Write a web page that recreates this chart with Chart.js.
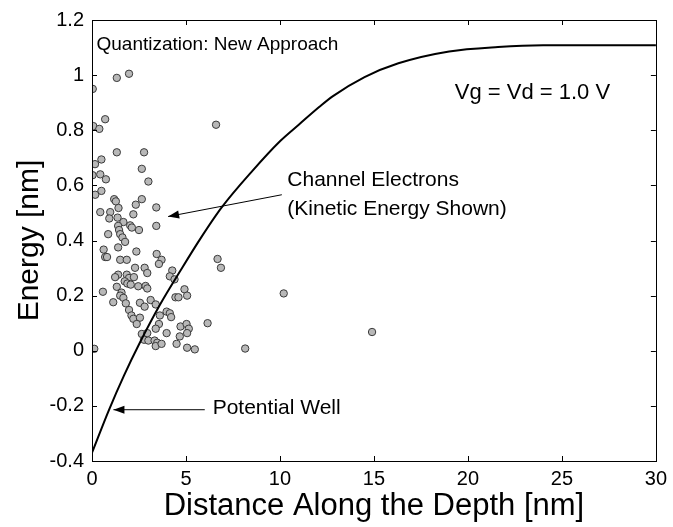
<!DOCTYPE html>
<html lang="en">
<head>
<meta charset="UTF-8" />
<title>Quantization: New Approach</title>
<script src="https://cdn.jsdelivr.net/npm/chart.js"></script>
<style>
  html, body { margin: 0; padding: 0; background: #fff; }
  #wrap { width: 673px; height: 527px; }
</style>
</head>
<body>
<div id="wrap"><canvas id="energyChart"></canvas></div>
<script>
// channel electrons (kinetic energy shown)
const electronX = [1.32, 1.97, 0.04, 0.7, 0.07, 0.39, 6.6, 1.32, 2.77, 0.5, 0.16, 2.65, 0.03, 0.44, 0.74, 3.0, 0.5, 0.17, 1.18, 1.27, 2.65, 2.33, 1.41, 3.42,
    0.44, 0.97, 0.92, 1.36, 2.2, 1.67, 2.03, 2.12, 2.5, 1.39, 1.44, 3.42, 1.5, 0.86, 1.62, 1.76, 1.39, 0.62, 2.36, 0.7, 0.8, 3.44, 1.5, 1.85, 3.7, 3.56,
    6.68, 6.86, 2.29, 2.8, 2.94, 4.27, 4.14, 4.39, 1.39, 1.23, 1.85, 1.97, 2.23, 1.74, 1.88, 2.06, 2.46, 2.85, 2.94, 1.32, 0.58, 1.57, 1.5, 4.92, 5.06,
    4.44, 4.6, 1.67, 1.13, 1.8, 2.55, 3.12, 2.8, 3.39, 1.97, 2.1, 2.2, 2.55, 2.38, 3.61, 3.97, 4.14, 4.21, 3.56, 3.39, 4.71, 5.03, 5.15, 6.15, 2.65,
    2.94, 3.97, 4.67, 5.06, 2.77, 3.0, 3.33, 3.47, 3.39, 3.7, 4.5, 5.06, 5.47, 0.12, 10.2, 8.15, 14.9];
const electronY = [0.99, 1.005, 0.95, 0.84, 0.815, 0.805, 0.82, 0.72, 0.72, 0.694, 0.677, 0.66, 0.637, 0.64, 0.622, 0.614, 0.58, 0.566, 0.55, 0.542, 0.55, 0.53, 0.518, 0.52,
    0.503, 0.503, 0.48, 0.483, 0.495, 0.467, 0.455, 0.447, 0.438, 0.453, 0.438, 0.453, 0.423, 0.423, 0.411, 0.395, 0.375, 0.367, 0.36, 0.34, 0.34, 0.351, 0.33, 0.33, 0.33, 0.315,
    0.333, 0.301, 0.301, 0.301, 0.282, 0.291, 0.27, 0.259, 0.276, 0.267, 0.276, 0.264, 0.267, 0.252, 0.244, 0.24, 0.234, 0.235, 0.226, 0.232, 0.214, 0.211, 0.2, 0.223, 0.2,
    0.194, 0.194, 0.192, 0.176, 0.172, 0.174, 0.184, 0.16, 0.168, 0.148, 0.128, 0.116, 0.12, 0.097, 0.128, 0.142, 0.136, 0.122, 0.097, 0.08, 0.088, 0.097, 0.08, 0.1, 0.061,
    0.064, 0.064, 0.052, 0.064, 0.04, 0.037, 0.037, 0.029, 0.017, 0.025, 0.025, 0.011, 0.005, 0.007, 0.208, 0.008, 0.068];

// potential well
const wellX = [0, 0.9, 1.7, 2.55, 3.6, 4.7, 5.75, 6.9, 8.5, 10, 11, 12.1, 12.8, 14.5, 16.3, 19, 21.6, 24, 30];
const wellY = [-0.37, -0.215, -0.09, 0.03, 0.165, 0.29, 0.405, 0.52, 0.65, 0.76, 0.82, 0.885, 0.923, 0.993, 1.043, 1.086, 1.102, 1.108, 1.108];

const xLabel = 'Distance Along the Depth [nm]';
const yLabel = 'Energy [nm]';

const FONT = "Arial, 'Liberation Sans', Helvetica, sans-serif";

// text notes and arrows, placed in data units
const notes = [
    { text: 'Quantization: New Approach', x: 0.24, y: 1.11, size: 19 },
    { text: 'Vg = Vd = 1.0 V', x: 19.3, y: 0.936, size: 22 },
    { text: 'Channel Electrons', x: 10.39, y: 0.62, size: 21 },
    { text: '(Kinetic Energy Shown)', x: 10.39, y: 0.512, size: 21 },
    { text: 'Potential Well', x: 6.42, y: -0.21, size: 21 }
];
const arrows = [
    { from: [10.1, 0.566], to: [4.05, 0.487] },
    { from: [6.0, -0.214], to: [1.14, -0.214] }
];

const frameAndNotes = {
    id: 'frameAndNotes',
    afterDatasetsDraw(chart) {
        const { ctx, chartArea: a, scales: { x, y } } = chart;
        ctx.save();
        ctx.strokeStyle = '#000';
        ctx.lineWidth = 1;
        ctx.strokeRect(Math.round(a.left) + 0.5, Math.round(a.top) + 0.5,
            Math.round(a.right - a.left), Math.round(a.bottom - a.top));

        // inward ticks on all four sides
        const len = 5;
        ctx.beginPath();
        x.ticks.forEach(t => {
            const px = Math.round(x.getPixelForValue(t.value)) + 0.5;
            ctx.moveTo(px, a.bottom); ctx.lineTo(px, a.bottom - len);
            ctx.moveTo(px, a.top); ctx.lineTo(px, a.top + len);
        });
        y.ticks.forEach(t => {
            const py = Math.round(y.getPixelForValue(t.value)) + 0.5;
            ctx.moveTo(a.left, py); ctx.lineTo(a.left + len, py);
            ctx.moveTo(a.right, py); ctx.lineTo(a.right - len, py);
        });
        ctx.stroke();

        ctx.fillStyle = '#000';
        ctx.textBaseline = 'middle';
        ctx.textAlign = 'left';
        notes.forEach(n => {
            ctx.font = n.size + 'px ' + FONT;
            ctx.fillText(n.text, x.getPixelForValue(n.x), y.getPixelForValue(n.y));
        });

        arrows.forEach(ar => {
            const x0 = x.getPixelForValue(ar.from[0]), y0 = y.getPixelForValue(ar.from[1]);
            const x1 = x.getPixelForValue(ar.to[0]), y1 = y.getPixelForValue(ar.to[1]);
            const ang = Math.atan2(y1 - y0, x1 - x0);
            ctx.beginPath();
            ctx.moveTo(x0, y0); ctx.lineTo(x1, y1);
            ctx.stroke();
            ctx.beginPath();
            ctx.moveTo(x1, y1);
            ctx.lineTo(x1 - 11 * Math.cos(ang) + 4 * Math.sin(ang), y1 - 11 * Math.sin(ang) - 4 * Math.cos(ang));
            ctx.lineTo(x1 - 11 * Math.cos(ang) - 4 * Math.sin(ang), y1 - 11 * Math.sin(ang) + 4 * Math.cos(ang));
            ctx.closePath();
            ctx.fill();
        });
        ctx.restore();
    }
};

new Chart(document.getElementById('energyChart'), {
    type: 'scatter',
    data: {
        datasets: [
            {
                label: 'Potential Well',
                data: wellX.map((v, i) => ({ x: v, y: wellY[i] })),
                showLine: true,
                borderColor: '#000',
                borderWidth: 2,
                pointRadius: 0,
                cubicInterpolationMode: 'monotone',
                fill: false
            },
            {
                label: 'Channel Electrons',
                data: electronX.map((v, i) => ({ x: v, y: electronY[i] })),
                pointRadius: 3.7,
                pointBackgroundColor: '#b8b8b8',
                pointBorderColor: '#3a3a3a',
                pointBorderWidth: 1
            }
        ]
    },
    options: {
        responsive: true,
        maintainAspectRatio: false,
        animation: false,
        layout: { padding: { top: 20, right: 14, bottom: 0, left: 0 } },
        plugins: {
            legend: { display: false },
            tooltip: { enabled: false }
        },
        scales: {
            x: {
                type: 'linear',
                min: 0,
                max: 30,
                afterFit(scale) { scale.height = 66; },
                grid: { display: false, drawTicks: false },
                border: { display: false },
                ticks: {
                    stepSize: 5,
                    padding: 6,
                    color: '#000',
                    font: { family: FONT, size: 20 }
                },
                title: {
                    display: true,
                    text: xLabel,
                    color: '#000',
                    font: { family: FONT, size: 31 },
                    padding: { top: 0, bottom: 2 }
                }
            },
            y: {
                type: 'linear',
                min: -0.4,
                max: 1.2,
                afterFit(scale) { scale.width = 92; },
                grid: { display: false, drawTicks: false },
                border: { display: false },
                ticks: {
                    stepSize: 0.2,
                    padding: 8,
                    color: '#000',
                    font: { family: FONT, size: 20 },
                    callback: v => String(+v.toFixed(1))
                },
                title: {
                    display: true,
                    text: yLabel,
                    color: '#000',
                    font: { family: FONT, size: 30 },
                    padding: { top: 12, bottom: 0 }
                }
            }
        }
    },
    plugins: [frameAndNotes]
});
</script>
</body>
</html>
